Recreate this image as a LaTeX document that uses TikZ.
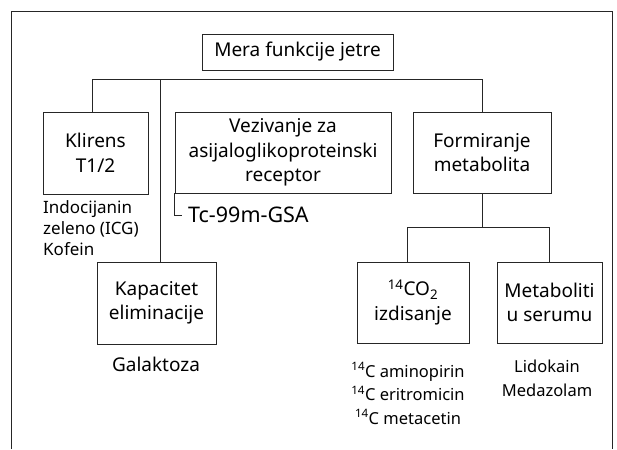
\documentclass[tikz,border=0pt]{standalone}
\usepackage{fontspec}
\setmainfont{Noto Sans}
\usepackage{tikz}
\newcommand{\boxfont}{\fontsize{19}{24.5}\selectfont}
\newcommand{\notefont}{\fontsize{16.5}{23.5}\selectfont}

\begin{document}
\begin{tikzpicture}[x=1pt,y=-1pt]
	\tikzstyle{box} = [draw, rectangle, align=center, inner sep=0pt, font=\boxfont]
	\tikzstyle{note} = [align=center, inner sep=0pt, font=\notefont]
	\tikzstyle{wire} = [line width=0.8pt, draw=black!85]
	\useasboundingbox (0,0) rectangle (617,449);
	\draw[wire] (11,449) -- (11,11) -- (612,11) -- (612,449);
	\node (mera) [box, wire, minimum width=191pt, minimum height=36pt] at (297.5,52) {Mera funkcije jetre};
	\node (klirens) [box, wire, minimum width=105pt, minimum height=82pt] at (95.5,153) {Klirens\\T1/2};
	\node (vezivanje) [box, wire, minimum width=216pt, minimum height=81pt] at (283,152.5) {Vezivanje za\\asijaloglikoproteinski\\receptor};
	\node (formiranje) [box, wire, minimum width=138pt, minimum height=81pt] at (482,152.5) {Formiranje\\metabolita};
	\node (kapacitet) [box, wire, minimum width=119pt, minimum height=82pt] at (156.5,303) {Kapacitet\\eliminacije};
	\node (co2) [box, wire, minimum width=112pt, minimum height=81pt] at (413,302.5) {\textsuperscript{14}CO\textsubscript{2}\\izdisanje};
	\node (metaboliti) [box, wire, minimum width=105pt, minimum height=81pt] at (549.5,302.5) {Metaboliti\\u serumu};
	\coordinate (bus) at (0,79);
	\coordinate (bus2) at (0,227);
	% grane ispod glavnog naslova
	\draw[wire] ([xshift=-3.5pt]klirens.north) -- ([xshift=-3.5pt]klirens.north |- bus) -- (formiranje.north |- bus) -- (formiranje.north);
	\draw[wire] ([xshift=3.5pt]kapacitet.north) -- ([xshift=3.5pt]kapacitet.north |- bus);
	\draw[wire] (formiranje.south) -- (formiranje.south |- bus2);
	\draw[wire] ([xshift=-6pt]co2.north) -- ([xshift=-6pt]co2.north |- bus2) -- (metaboliti.north |- bus2) -- (metaboliti.north);
	% primeri
	\node (tc) [note, font=\fontsize{21.5}{24}\selectfont, anchor=west, inner xsep=6pt] at (182,215) {Tc-99m-GSA};
	\draw[wire] (vezivanje.south west) |- (tc.west);
	\node (indocijanin) [note, align=left, anchor=west, font=\fontsize{17}{21}\selectfont] at (43,228) {Indocijanin\\zeleno (ICG)\\Kofein};
	\node (galaktoza) [note, font=\boxfont] at (156,364) {Galaktoza};
	\node (aminopirin) [note] at (408,393.5) {\textsuperscript{14}C aminopirin\\\textsuperscript{14}C eritromicin\\\textsuperscript{14}C metacetin};
	\node (lidokain) [note] at (547,378.5) {Lidokain\\Medazolam};
\end{tikzpicture}
\end{document}
